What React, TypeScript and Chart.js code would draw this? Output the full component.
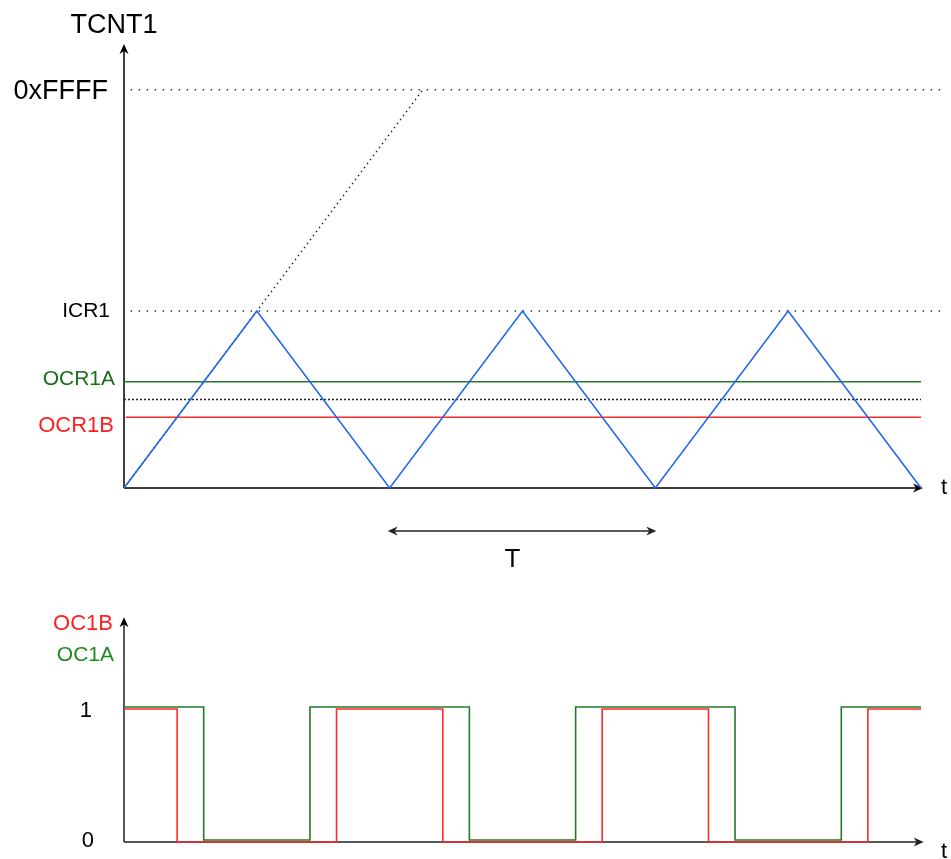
import React, { useEffect, useRef } from "react";
import { Chart, registerables } from "chart.js";

Chart.register(...registerables);

// ---- data (time in half-periods, counter values relative to ICR1) ----
const HALF_PERIODS = [0, 1, 2, 3, 4, 5, 6];
const TCNT1_VALUES = [0, 1, 0, 1, 0, 1, 0];
const TOP_VALUE = 2.25; // 0xFFFF
const ICR1_VALUE = 1;
const OCR1A_VALUE = 0.6;
const MID_VALUE = 0.5;
const OCR1B_VALUE = 0.4;
const RAMP_T = [0, 2.25];
const RAMP_V = [0, 2.25];
const REF_LINE_T = [0.05, 6.18];
const COMPARE_LINE_T = [0, 6];
const OC1A_T = [0, 0.6, 1.4, 2.6, 3.4, 4.6, 5.4, 6];
const OC1A_LEVEL = [1, 0, 1, 0, 1, 0, 1, 1];
const OC1B_T = [0, 0.4, 1.6, 2.4, 3.6, 4.4, 5.6, 6];
const OC1B_LEVEL = [1, 0, 1, 0, 1, 0, 1, 1];
const PERIOD_T = [2, 4];
const LEVEL_TICKS = ["0", "1"];
const TOP_LABELS = ["0xFFFF", "ICR1", "OCR1A", "OCR1B"];
const OUT_LABELS = ["OC1B", "OC1A"];

const FONT = "'Liberation Sans', Arial, sans-serif";
const BLUE = "#2265ee";
const GREEN = "#23792a";
const GREEN_TEXT = "#1b6e1b";
const RED = "#ff2a2a";
const GREEN_OFFSET = 0.015;

const pts = (xs: number[], ys: number[]) => xs.map((x, i) => ({ x, y: ys[i] }));
const hline = (xs: number[], v: number) => xs.map((x) => ({ x, y: v }));

function arrowHead(ctx: CanvasRenderingContext2D, x: number, y: number, angle: number, color: string) {
  const len = 10;
  const half = 4.5;
  ctx.save();
  ctx.translate(x, y);
  ctx.rotate(angle);
  ctx.fillStyle = color;
  ctx.beginPath();
  ctx.moveTo(0, 0);
  ctx.lineTo(-len, -half);
  ctx.lineTo(-len * 0.7, 0);
  ctx.lineTo(-len, half);
  ctx.closePath();
  ctx.fill();
  ctx.restore();
}

const diagramPlugin = {
  id: "diagram",
  beforeDatasetsDraw(chart: any) {
    const { ctx, scales } = chart;
    const xs = scales.x, ys = scales.y, y2 = scales.y2;
    const x0 = xs.getPixelForValue(0);
    ctx.save();
    ctx.lineWidth = 1.5;
    ctx.strokeStyle = "#000";
    // top panel axes
    const yTop0 = ys.getPixelForValue(0);
    const yTopTip = ys.getPixelForValue(ys.max);
    const xTip = xs.getPixelForValue(6.015);
    ctx.beginPath();
    ctx.moveTo(x0, yTop0);
    ctx.lineTo(x0, yTopTip + 6);
    ctx.moveTo(x0, yTop0);
    ctx.lineTo(xTip - 6, yTop0);
    ctx.stroke();
    arrowHead(ctx, x0, yTopTip, -Math.PI / 2, "#000");
    arrowHead(ctx, xTip, yTop0, 0, "#000");
    // bottom panel axes
    const yb0 = y2.getPixelForValue(0);
    const ybTip = y2.getPixelForValue(1.69);
    const xbTip = xs.getPixelForValue(6.02);
    ctx.strokeStyle = "#222";
    ctx.beginPath();
    ctx.moveTo(x0, yb0);
    ctx.lineTo(x0, ybTip + 6);
    ctx.moveTo(x0, yb0);
    ctx.lineTo(xbTip - 6, yb0);
    ctx.stroke();
    arrowHead(ctx, x0, ybTip, -Math.PI / 2, "#000");
    arrowHead(ctx, xbTip, yb0, 0, "#222");
    ctx.restore();
  },
  afterDraw(chart: any) {
    const { ctx, scales } = chart;
    const xs = scales.x, ys = scales.y, y2 = scales.y2;
    const x0 = xs.getPixelForValue(0);
    ctx.save();
    ctx.textBaseline = "alphabetic";
    const text = (s: string, x: number, y: number, size: number, color: string, align: CanvasTextAlign) => {
      ctx.font = `${size}px ${FONT}`;
      ctx.fillStyle = color;
      ctx.textAlign = align;
      ctx.fillText(s, x, y);
    };
    // top panel
    text("TCNT1", x0 - 10, ys.getPixelForValue(ys.max) - 11, 27, "#000", "center");
    text(TOP_LABELS[0], x0 - 16, ys.getPixelForValue(TOP_VALUE) + 9, 27, "#000", "right");
    text(TOP_LABELS[1], x0 - 14, ys.getPixelForValue(ICR1_VALUE) + 6, 21, "#000", "right");
    text(TOP_LABELS[2], x0 - 9, ys.getPixelForValue(OCR1A_VALUE) + 3, 21, GREEN_TEXT, "right");
    text(TOP_LABELS[3], x0 - 10, ys.getPixelForValue(OCR1B_VALUE) + 15, 22, "#ff1f1f", "right");
    text("t", xs.getPixelForValue(6) + 20, ys.getPixelForValue(0) + 6, 22, "#000", "left");
    // period arrow
    const yT = ys.getPixelForValue(-0.243);
    const xa = xs.getPixelForValue(PERIOD_T[0]);
    const xb = xs.getPixelForValue(PERIOD_T[1]);
    ctx.strokeStyle = "#222";
    ctx.lineWidth = 1.5;
    ctx.beginPath();
    ctx.moveTo(xa + 5, yT);
    ctx.lineTo(xb - 5, yT);
    ctx.stroke();
    arrowHead(ctx, xa - 2, yT, Math.PI, "#222");
    arrowHead(ctx, xb + 1, yT, 0, "#222");
    text("T", (xa + xb) / 2 - 10, yT + 36, 26, "#000", "center");
    // bottom panel
    const ybTip = y2.getPixelForValue(1.69);
    text(OUT_LABELS[0], x0 - 11, ybTip + 13, 22, "#ff2020", "right");
    text(OUT_LABELS[1], x0 - 10, ybTip + 44, 21, "#1f8a1f", "right");
    text(LEVEL_TICKS[1], x0 - 32, y2.getPixelForValue(1) + 8, 22, "#000", "right");
    text(LEVEL_TICKS[0], x0 - 30, y2.getPixelForValue(0) + 5, 22, "#000", "right");
    text("t", xs.getPixelForValue(6) + 20, y2.getPixelForValue(0) + 16, 22, "#000", "left");
    ctx.restore();
  },
};

export default function App() {
  const ref = useRef<HTMLCanvasElement | null>(null);
  useEffect(() => {
    if (!ref.current) return;
    const chart = new Chart(ref.current, {
      type: "line",
      data: {
        datasets: [
          {
            label: "TCNT1",
            data: pts(HALF_PERIODS, TCNT1_VALUES),
            borderColor: BLUE,
            borderWidth: 1.6,
            pointRadius: 0,
            yAxisID: "y",
            clip: false,
          },
          {
            label: "OCR1A",
            data: hline(COMPARE_LINE_T, OCR1A_VALUE),
            borderColor: GREEN,
            borderWidth: 1.5,
            pointRadius: 0,
            yAxisID: "y",
            clip: false,
          },
          {
            label: "OCR1B",
            data: hline([0.015, COMPARE_LINE_T[1]], OCR1B_VALUE),
            borderColor: RED,
            borderWidth: 1.5,
            pointRadius: 0,
            yAxisID: "y",
            clip: false,
          },
          {
            label: "mid",
            data: hline(COMPARE_LINE_T, MID_VALUE),
            borderColor: "#222",
            borderWidth: 1.5,
            borderDash: [2, 2],
            pointRadius: 0,
            yAxisID: "y",
            clip: false,
          },
          {
            label: "ramp",
            data: pts(RAMP_T, RAMP_V),
            borderColor: "#222",
            borderWidth: 1.4,
            borderDash: [1.5, 3.5],
            pointRadius: 0,
            yAxisID: "y",
            clip: false,
          },
          {
            label: "0xFFFF",
            data: hline(REF_LINE_T, TOP_VALUE),
            borderColor: "#333",
            borderWidth: 1.5,
            borderDash: [1.5, 6.5],
            pointRadius: 0,
            yAxisID: "y",
            clip: false,
          },
          {
            label: "ICR1",
            data: hline(REF_LINE_T, ICR1_VALUE),
            borderColor: "#333",
            borderWidth: 1.5,
            borderDash: [1.5, 6.5],
            pointRadius: 0,
            yAxisID: "y",
            clip: false,
          },
          {
            label: "OC1B",
            data: pts(OC1B_T, OC1B_LEVEL),
            borderColor: RED,
            borderWidth: 1.6,
            stepped: "before",
            pointRadius: 0,
            yAxisID: "y2",
            clip: false,
          },
          {
            label: "OC1A",
            data: pts(OC1A_T, OC1A_LEVEL.map((v) => v + GREEN_OFFSET)),
            borderColor: GREEN,
            borderWidth: 1.6,
            stepped: "before",
            pointRadius: 0,
            yAxisID: "y2",
            clip: false,
          },
        ],
      },
      options: {
        animation: false,
        responsive: false,
        devicePixelRatio: 1,
        layout: { padding: { left: 124, right: 30, top: 44, bottom: 17 } },
        plugins: { legend: { display: false }, tooltip: { enabled: false } },
        events: [],
        scales: {
          x: { type: "linear", min: 0, max: 6, display: false },
          y: { type: "linear", min: -2, max: 2.5085, display: false },
          y2: { type: "linear", min: 0, max: 6, display: false },
        },
      },
      plugins: [diagramPlugin],
    } as any);
    return () => chart.destroy();
  }, []);
  return (
    <div style={{ position: "fixed", left: 0, top: 0, width: 951, height: 859, background: "#fff" }}>
      <canvas ref={ref} width={951} height={859} style={{ display: "block" }} />
    </div>
  );
}
